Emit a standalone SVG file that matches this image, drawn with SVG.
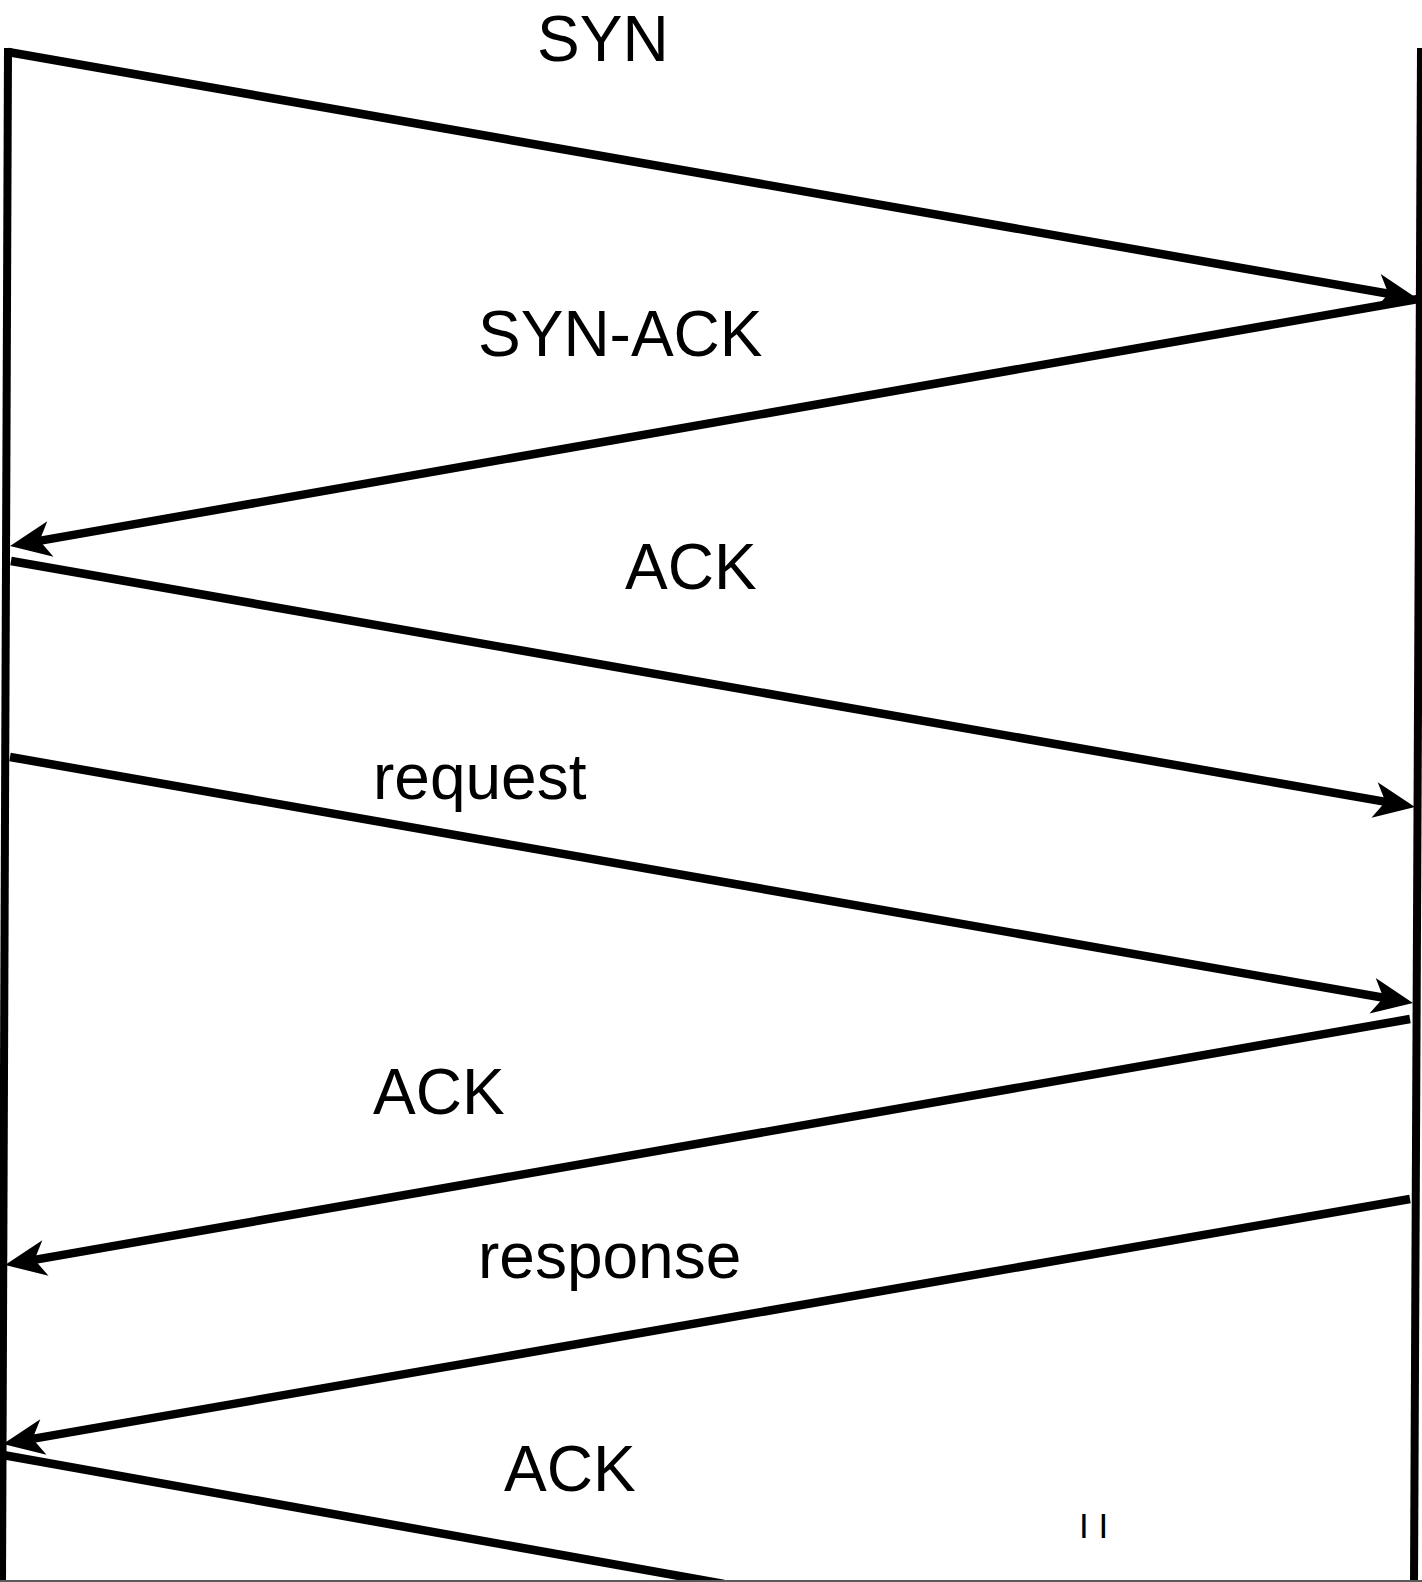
<svg xmlns="http://www.w3.org/2000/svg" width="1422" height="1582" viewBox="0 0 1422 1582">
  <style>
    .life { stroke: #000; stroke-width: 8; fill: none; }
    .msg { stroke: #000; stroke-width: 8.5; fill: none; marker-end: url(#head); }
    .plain { stroke: #000; stroke-width: 8.5; fill: none; }
    .lbl { font-family: "Liberation Sans", Arial, sans-serif; font-size: 64px; fill: #000; }
    .small { font-family: "Liberation Sans", Arial, sans-serif; font-size: 35px; fill: #000; }
  </style>
  <defs>
    <marker id="head" markerUnits="userSpaceOnUse" orient="auto" viewBox="-24 -22 48 44" markerWidth="48" markerHeight="44" refX="0" refY="0">
      <path d="M21,0 L-20,-18 L-9,0 L-20,18 Z" fill="#000"/>
    </marker>
  </defs>
  <rect width="1422" height="1582" fill="#fff"/>

  <!-- lifelines -->
  <g id="client">
    <line class="life" x1="8" y1="48" x2="2" y2="1584"/>
  </g>
  <g id="server">
    <line class="life" x1="1421" y1="48" x2="1414" y2="1584"/>
  </g>

  <!-- messages -->
  <g id="connectors">
    <line class="msg" x1="8" y1="52" x2="1397.3" y2="295.3"/>
    <line class="msg" x1="1418" y1="299" x2="30.7" y2="542.4"/>
    <line class="msg" x1="11" y1="561" x2="1394.3" y2="803.4"/>
    <line class="msg" x1="10" y1="757" x2="1392.3" y2="999.3"/>
    <line class="msg" x1="1410" y1="1019" x2="25.7" y2="1261.4"/>
    <line class="msg" x1="1410" y1="1199" x2="23.7" y2="1440.4"/>
    <line class="plain" x1="3" y1="1455" x2="724" y2="1584"/>
  </g>

  <!-- labels -->
  <g id="labels">
    <text class="lbl" x="537" y="61">SYN</text>
    <text class="lbl" x="478" y="356">SYN-ACK</text>
    <text class="lbl" x="625" y="589">ACK</text>
    <text class="lbl" x="373" y="799">request</text>
    <text class="lbl" x="373" y="1114">ACK</text>
    <text class="lbl" x="478" y="1278">response</text>
    <text class="lbl" x="504" y="1491">ACK</text>
    <text class="small" x="1079" y="1538">I I</text>
  </g>

  <rect x="0" y="1580" width="1422" height="2" fill="#5a5a5a"/>
</svg>
